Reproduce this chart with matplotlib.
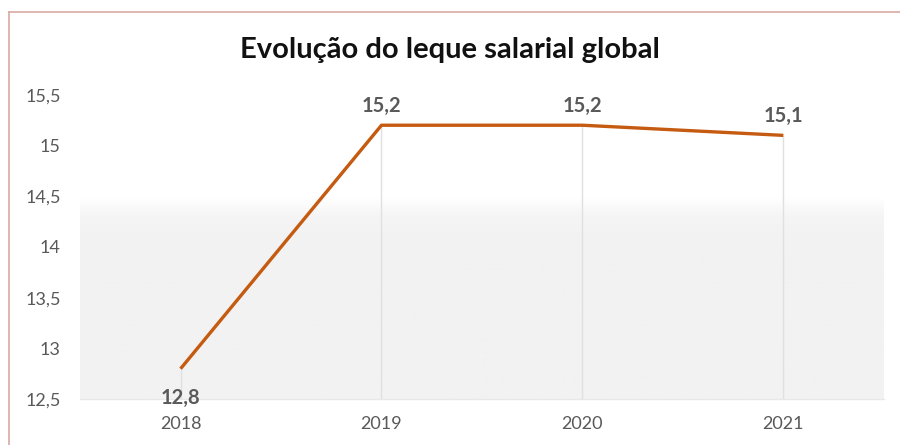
import numpy as np
import matplotlib.pyplot as plt
from matplotlib.lines import Line2D
from matplotlib.colors import LinearSegmentedColormap

plt.rcParams['font.family'] = ['Lato', 'DejaVu Sans']

# data
anos = ['2018', '2019', '2020', '2021']
leque = [12.8, 15.2, 15.2, 15.1]
rotulos = ['12,8', '15,2', '15,2', '15,1']
yticks = [12.5, 13, 13.5, 14, 14.5, 15, 15.5]
ytick_labels = ['12,5', '13', '13,5', '14', '14,5', '15', '15,5']

fig = plt.figure(figsize=(9, 4.45), dpi=100)
ax = fig.add_axes([0.089, 0.103, 0.893, 0.684])

x = np.arange(len(anos))
ax.set_xlim(-0.5, len(anos) - 0.5)
ax.set_ylim(12.5, 15.5)

# soft grey fill in the lower part of the plot area
cmap = LinearSegmentedColormap.from_list('fundo', ['#f2f2f2', '#f5f5f5', '#ffffff'])
grad = np.linspace(0, 1, 256).reshape(-1, 1)
grad = np.clip((grad - 0.5) / 0.16, 0, 1) ** 1.5
ax.imshow(grad, cmap=cmap, aspect='auto', origin='lower',
          extent=(-0.5, len(anos) - 0.5, 12.5, 15.5), zorder=0)

# drop lines from each point to the axis
ax.vlines(x, 12.5, leque, colors='#e0e0e0', linewidth=1, zorder=1)

ax.plot(x, leque, color='#c55a11', linewidth=2.4, solid_capstyle='butt', zorder=3)

for xi, v, lab in zip(x, leque, rotulos):
    dy = -29 if xi == 0 else 19
    ax.annotate(lab, (xi, v), xytext=(0, dy), textcoords='offset pixels',
                ha='center', va='center', fontsize=14.5, fontweight='bold',
                color='#595959')

ax.set_xticks(x)
ax.set_xticklabels(anos)
ax.set_yticks(yticks)
ax.set_yticklabels(ytick_labels)
ax.tick_params(axis='both', length=0, labelsize=13, labelcolor='#595959')
ax.tick_params(axis='x', pad=12)
ax.tick_params(axis='y', pad=14)

for s in ['top', 'left', 'right']:
    ax.spines[s].set_visible(False)
ax.spines['bottom'].set_color('#e8e8e8')
ax.spines['bottom'].set_linewidth(1)

fig.text(0.5, 1 - 50 / 445, 'Evolução do leque salarial global',
         ha='center', va='center', fontsize=21, fontweight='bold', color='#111111')

# chart frame (left and top edges)
fig.add_artist(Line2D([9 / 900, 9 / 900], [0, 1 - 12 / 445], transform=fig.transFigure,
                      color='#d8a9a3', linewidth=1.2))
fig.add_artist(Line2D([9 / 900, 1], [1 - 12 / 445, 1 - 12 / 445], transform=fig.transFigure,
                      color='#d8a9a3', linewidth=1.2))

fig.savefig('out.png', dpi=100)
